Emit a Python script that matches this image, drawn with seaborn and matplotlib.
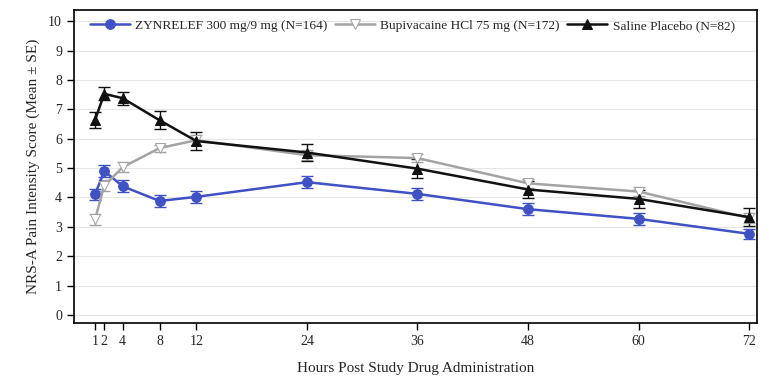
import numpy as np
import pandas as pd
import matplotlib
matplotlib.use("Agg")
import matplotlib.pyplot as plt
import seaborn as sns

# time points (hours)
hours = [1, 2, 4, 8, 12, 24, 36, 48, 60, 72]

zyn_mean = [4.10, 4.90, 4.38, 3.88, 4.02, 4.52, 4.12, 3.60, 3.27, 2.76]
zyn_se = [0.20, 0.20, 0.20, 0.20, 0.20, 0.20, 0.20, 0.20, 0.20, 0.18]

bup_mean = [3.25, 4.40, 5.03, 5.68, 5.95, 5.44, 5.34, 4.48, 4.20, 3.30]
bup_se = [0.20, 0.18, 0.16, 0.12, 0.16, 0.18, 0.14, 0.16, 0.14, 0.16]

sal_mean = [6.63, 7.53, 7.38, 6.63, 5.92, 5.53, 4.98, 4.27, 3.95, 3.33]
sal_se = [0.28, 0.22, 0.22, 0.30, 0.30, 0.30, 0.32, 0.30, 0.30, 0.30]

groups = ["ZYNRELEF 300 mg/9 mg (N=164)",
          "Bupivacaine HCl 75 mg (N=172)",
          "Saline Placebo (N=82)"]

df = pd.concat([
    pd.DataFrame({"hour": hours, "mean": zyn_mean, "se": zyn_se, "group": groups[0]}),
    pd.DataFrame({"hour": hours, "mean": bup_mean, "se": bup_se, "group": groups[1]}),
    pd.DataFrame({"hour": hours, "mean": sal_mean, "se": sal_se, "group": groups[2]}),
])

sns.set_theme(style="white")
plt.rcParams["font.family"] = ["Liberation Serif", "DejaVu Serif"]

fig, ax = plt.subplots(figsize=(7.69, 3.86), dpi=100)

colors = {groups[0]: "#3f51c4", groups[1]: "#a3a3a3", groups[2]: "#111111"}
markers = {groups[0]: "o", groups[1]: "v", groups[2]: "^"}
faces = {groups[0]: "#3f51c4", groups[1]: "white", groups[2]: "#111111"}

# error bars first, lines on top
for g in [groups[1], groups[2], groups[0]]:
    d = df[df["group"] == g]
    ax.errorbar(d["hour"], d["mean"], yerr=d["se"], fmt="none",
                ecolor=colors[g], elinewidth=1.0, capsize=4.5, capthick=1.0, zorder=2)

for g in groups:
    d = df[df["group"] == g]
    sns.lineplot(data=d, x="hour", y="mean", ax=ax, color=colors[g],
                 marker=markers[g], markersize=7, markerfacecolor=faces[g],
                 markeredgecolor=colors[g], linewidth=1.8, label=g, zorder=3)

ax.set_xlim(-1.3, 72.9)
ax.set_ylim(-0.28, 10.37)
ax.set_xticks(hours)
ax.set_yticks(range(0, 11))
ax.yaxis.grid(True, color="#e6e6e6", linewidth=0.8)
ax.set_axisbelow(True)
ax.tick_params(axis="both", which="both", direction="out", length=5, width=1,
               labelsize=10, color="black", bottom=True, left=True)
for s in ax.spines.values():
    s.set_color("black")
    s.set_linewidth(1.2)

ax.set_xlabel("Hours Post Study Drug Administration", fontsize=11, labelpad=10)
ax.set_ylabel("NRS-A Pain Intensity Score (Mean ± SE)", fontsize=11, labelpad=6)

ax.legend(loc="upper left", ncol=3, frameon=False, fontsize=9.6,
          handlelength=3.0, columnspacing=0.55, handletextpad=0.4,
          borderaxespad=0.3, bbox_to_anchor=(0.01, 1.0), markerscale=1.0)

fig.subplots_adjust(left=0.096, right=0.985, top=0.973, bottom=0.163)
fig.savefig("out.png", dpi=100)
